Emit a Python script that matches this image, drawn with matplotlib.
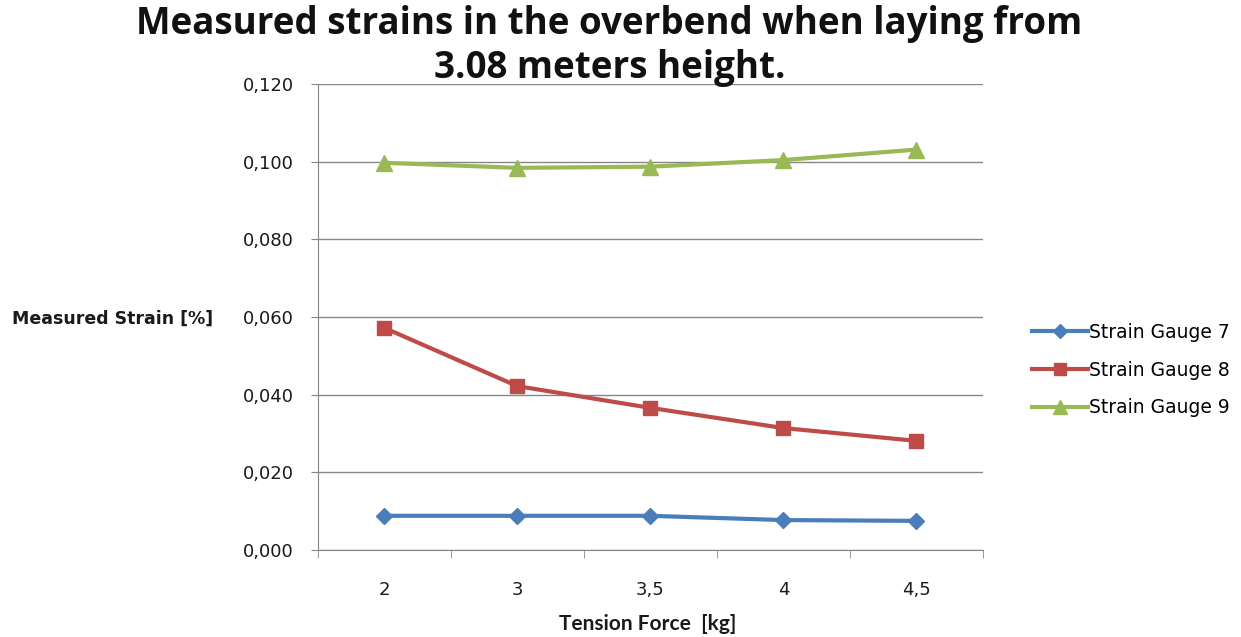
import matplotlib
matplotlib.use('Agg')
import matplotlib.pyplot as plt
from matplotlib.lines import Line2D
from matplotlib.ticker import FixedLocator, FuncFormatter

# tension force categories and measured strain per gauge
tension_labels = ['2', '3', '3,5', '4', '4,5']
gauge_7 = [0.0088, 0.0088, 0.0088, 0.0077, 0.0075]
gauge_8 = [0.0572, 0.0422, 0.0366, 0.0314, 0.0281]
gauge_9 = [0.0997, 0.0984, 0.0987, 0.1004, 0.1031]
y_ticks = [0.0, 0.02, 0.04, 0.06, 0.08, 0.10, 0.12]

series = [
    ('Strain Gauge 7', gauge_7, '#4A7EBB', 'D', 8),
    ('Strain Gauge 8', gauge_8, '#BE4B48', 's', 10),
    ('Strain Gauge 9', gauge_9, '#98B954', '^', 11),
]

fig = plt.figure(figsize=(12.41, 6.37), dpi=100)
ax = fig.add_axes([0.256, 0.1366, 0.536, 0.7316])

xs = list(range(len(tension_labels)))
handles = []
for name, vals, col, mk, ms in series:
    ax.plot(xs, vals, color=col, lw=3, marker=mk, markersize=ms, zorder=3)
    handles.append(Line2D([], [], color=col, lw=3, marker=mk, markersize=ms - 1, label=name))

ax.set_xlim(-0.5, len(tension_labels) - 0.5)
ax.set_ylim(0, 0.12)
ax.set_yticks(y_ticks)
ax.yaxis.set_major_formatter(FuncFormatter(lambda v, p: ('%.3f' % v).replace('.', ',')))
ax.grid(axis='y', color='#868686', lw=1)
ax.set_axisbelow(True)

ax.set_xticks(xs)
ax.set_xticklabels(tension_labels)
ax.xaxis.set_minor_locator(FixedLocator([i - 0.5 for i in range(len(tension_labels) + 1)]))
ax.tick_params(axis='x', which='major', length=0, pad=22, labelsize=13, colors='#1a1a1a')
ax.tick_params(axis='x', which='minor', length=6, color='#868686', direction='out')
ax.tick_params(axis='y', length=5, color='#868686', labelsize=13, pad=12, labelcolor='#1a1a1a')

for s in ['top', 'right']:
    ax.spines[s].set_visible(False)
for s in ['left', 'bottom']:
    ax.spines[s].set_color('#868686')

fig.text(0.0097, 0.499, 'Measured Strain [%]', fontsize=12.5, fontweight='bold',
         va='center', ha='left', color='#1a1a1a')
fig.text(0.522, 0.021, 'Tension Force  [kg]', fontsize=15, fontweight='bold',
         family=['Lato', 'DejaVu Sans'], ha='center', va='center', color='#1a1a1a')

# two-line title, one text per line
title_font = dict(fontsize=26.5, fontweight='bold', family=['Open Sans', 'DejaVu Sans'],
                  ha='center', va='center', color='#111111')
fig.text(0.491, 0.963, 'Measured strains in the overbend when laying from', **title_font)
fig.text(0.491, 0.893, '3.08 meters height.', **title_font)

fig.legend(handles=handles, loc='center left', bbox_to_anchor=(0.818, 0.419),
           frameon=False, fontsize=13.5, handlelength=3.0, handletextpad=0.05,
           labelspacing=1.0)

fig.savefig('out.png', dpi=100)
